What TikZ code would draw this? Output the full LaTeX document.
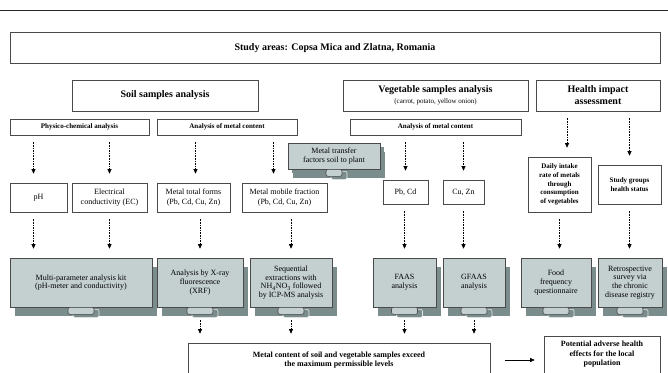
\documentclass[tikz,border=0pt]{standalone}
\usepackage{fontspec}
\setmainfont{Liberation Serif}
\usetikzlibrary{arrows.meta,shadows}

\definecolor{kitfill}{HTML}{C4D0D0}
\definecolor{kitshade}{HTML}{7A8C8C}
\definecolor{boxline}{HTML}{4A4A4A}

\tikzset{
  frame/.style={draw=boxline, line width=0.7pt, fill=white, align=center, inner sep=1pt},
  headbox/.style={frame, font=\bfseries\fontsize{10}{12}\selectfont},
  subbox/.style={frame, font=\bfseries\fontsize{7}{8.6}\selectfont},
  itembox/.style={frame, font=\fontsize{8}{9.6}\selectfont},
  kit/.style={draw=boxline, line width=0.6pt, fill=kitfill, align=center, inner sep=1pt,
    font=\fontsize{8}{8.8}\selectfont,
    drop shadow={shadow xshift=5pt, shadow yshift=-9pt, fill=kitshade, opacity=1}},
  flow/.style={-{Triangle[width=4pt,length=4.5pt]}, line width=0.6pt,
    dash pattern=on 1.6pt off 1pt, shorten <=7pt, shorten >=9pt},
}

% little clip under the grey boxes
\newcommand{\kithandle}[2][13]{%
  \draw[draw=kitfill!50!white, fill=kitshade, line width=0.6pt, rounded corners=2pt]
    ([shift={(-#1+5,2)}]#2.south) rectangle ([shift={(#1+5,10)}]#2.south);
  \draw[draw=boxline, fill=kitfill, line width=0.6pt, rounded corners=2pt]
    ([shift={(-#1,0)}]#2.south) rectangle ([shift={(#1,7)}]#2.south);
}

\begin{document}
\begin{tikzpicture}[x=1pt,y=-1pt]
  \useasboundingbox (0,0) rectangle (668,372);
  \clip (0,0) rectangle (668,372);
  \draw[line width=0.9pt, black!85] (0,10) -- (668,10);

  % top rows
  \node[headbox, minimum width=650pt, minimum height=31pt] (study) at (335,48)
    {Study areas: Copsa Mica and Zlatna, Romania};
  \node[headbox, minimum width=186pt, minimum height=31pt] (soil) at (165,95.5)
    {Soil samples analysis};
  \node[headbox, minimum width=185pt, minimum height=31pt] (veg) at (435.5,95.5)
    {Vegetable samples analysis\\[-1pt]{\mdseries\fontsize{7}{8}\selectfont (carrot, potato, yellow onion)}};
  \node[headbox, minimum width=124pt, minimum height=31pt] (health) at (598,95.5)
    {Health impact\\assessment};

  \node[subbox, minimum width=139pt, minimum height=16pt] (physico) at (79.5,127) {Physico-chemical analysis};
  \node[subbox, minimum width=140pt, minimum height=16pt] (anasoil) at (227,127) {Analysis of metal content};
  \node[subbox, minimum width=171pt, minimum height=16pt] (anaveg) at (435.5,127) {Analysis of metal content};

  % measured items
  \node[itembox, minimum width=57pt, minimum height=29pt] (ph) at (38.5,197.5) {pH};
  \node[itembox, minimum width=75pt, minimum height=29pt] (ec) at (109.5,197.5) {Electrical\\conductivity (EC)};
  \node[itembox, minimum width=73pt, minimum height=29pt] (total) at (193.5,197.5) {Metal total forms\\(Pb, Cd, Cu, Zn)};
  \node[itembox, minimum width=85pt, minimum height=29pt] (mobile) at (284.5,197.5) {Metal mobile fraction\\(Pb, Cd, Cu, Zn)};
  \node[itembox, minimum width=45pt, minimum height=24pt] (pbcd) at (405.5,192) {Pb, Cd};
  \node[itembox, minimum width=41pt, minimum height=24pt] (cuzn) at (463.5,192) {Cu, Zn};
  \node[subbox, minimum width=63pt, minimum height=55pt] (daily) at (559.5,184.5)
    {Daily intake\\rate of metals\\through\\consumption\\of vegetables};
  \node[subbox, minimum width=63pt, minimum height=39pt] (grp) at (629.5,184.5)
    {Study groups\\health status};

  \node[kit, minimum width=92pt, minimum height=26pt,
    drop shadow={shadow xshift=4pt, shadow yshift=-4pt, fill=kitshade, opacity=1}] (transfer) at (334,156)
    {Metal transfer\\factors soil to plant};
  \kithandle[8]{transfer}

  % methods
  \node[kit, minimum width=142pt, minimum height=49pt] (multi) at (81,282.5)
    {Multi-parameter analysis kit\\(pH-meter and conductivity)};
  \node[kit, minimum width=86pt, minimum height=49pt] (xray) at (200,282.5)
    {Analysis by X-ray\\fluorescence\\(XRF)};
  \node[kit, minimum width=82pt, minimum height=49pt] (seq) at (291,282.5)
    {Sequential\\extractions with\\NH\textsubscript{4}NO\textsubscript{3} followed\\by ICP-MS analysis};
  \node[kit, minimum width=63pt, minimum height=49pt] (faas) at (404.5,282.5) {FAAS\\analysis};
  \node[kit, minimum width=62pt, minimum height=49pt] (gfaas) at (474,282.5) {GFAAS\\analysis};
  \node[kit, minimum width=70pt, minimum height=49pt] (food) at (556,282.5)
    {Food\\frequency\\questionnaire};
  \node[kit, minimum width=64pt, minimum height=49pt] (retro) at (630,282.5)
    {Retrospective\\survey via\\the chronic\\disease registry};
  \foreach \k in {multi,xray,seq,faas,gfaas,food,retro} {
    \kithandle{\k}
  }

  % outcome
  \node[frame, font=\bfseries\fontsize{8}{9}\selectfont, minimum width=302pt, minimum height=34pt] (content) at (339,360)
    {Metal content of soil and vegetable samples exceed\\the maximum permissible levels};
  \node[frame, font=\bfseries\fontsize{8}{9.5}\selectfont, minimum width=116pt, minimum height=37pt] (potential) at (602,354.5)
    {Potential adverse health\\effects for the local\\population};

  % arrows
  \draw[flow] ([xshift=-5pt]ph.north |- physico.south) -- ([xshift=-5pt]ph.north);
  \draw[flow] (ec.north |- physico.south) -- (ec.north);
  \draw[flow] ([xshift=2pt]total.north |- anasoil.south) -- ([xshift=2pt]total.north);
  \draw[flow] ([xshift=-11pt]mobile.north |- anasoil.south) -- ([xshift=-11pt]mobile.north);
  \draw[flow] (pbcd.north |- anaveg.south) -- (pbcd.north);
  \draw[flow] (cuzn.north |- anaveg.south) -- (cuzn.north);
  \draw[flow] ([xshift=-31pt]health.south) -- ([xshift=-31pt]health.south |- daily.north);
  \draw[flow] (grp.north |- health.south) -- (grp.north);

  \draw[flow] ([xshift=-5pt]ph.south) -- ([xshift=-5pt]ph.south |- multi.north);
  \draw[flow] (ec.south) -- (ec.south |- multi.north);
  \draw[flow] (xray.north |- total.south) -- (xray.north);
  \draw[flow] (seq.north |- mobile.south) -- (seq.north);
  \draw[flow] (faas.north |- pbcd.south) -- (faas.north);
  \draw[flow] (cuzn.south) -- (cuzn.south |- gfaas.north);
  \draw[flow] (daily.south) -- (daily.south |- food.north);
  \draw[flow] (grp.south) -- (grp.south |- retro.north);

  \foreach \k in {xray,seq,faas,gfaas} {
    \draw[flow, shorten <=13pt] (\k.south) -- (\k.south |- content.north);
  }
  \draw[-{Triangle[width=4pt,length=4.5pt]}, line width=0.6pt, shorten <=15pt, shorten >=9pt]
    (content.east) -- (content.east -| potential.west);
\end{tikzpicture}
\end{document}
